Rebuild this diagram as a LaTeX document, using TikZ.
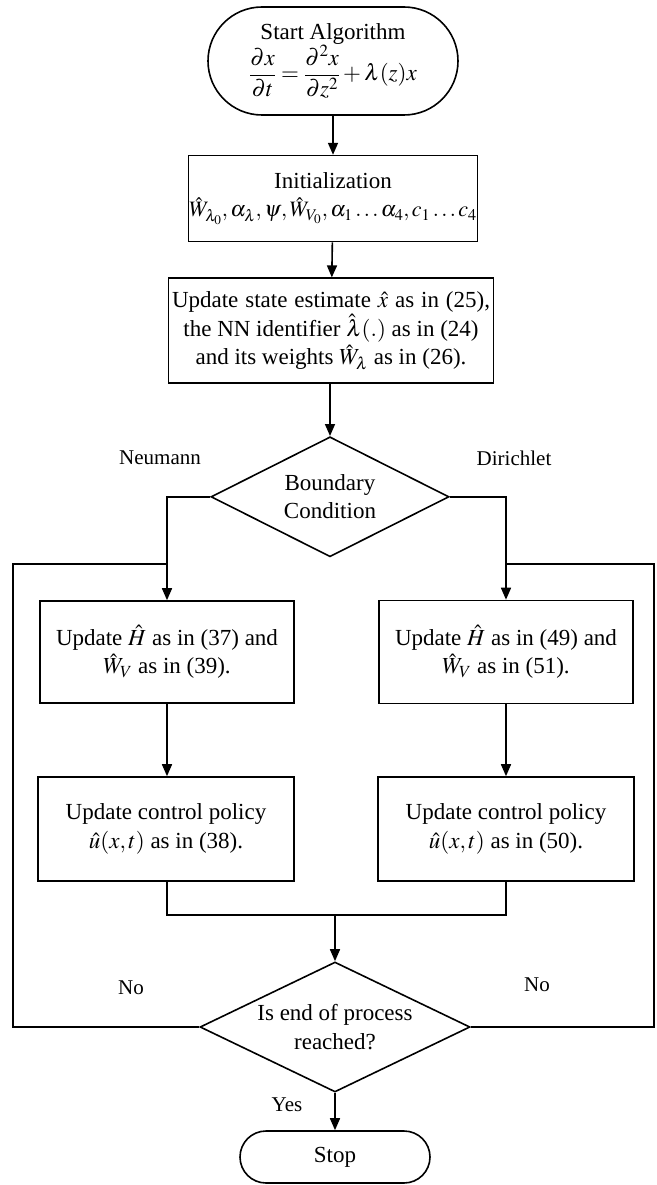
\documentclass[tikz,border=0pt]{standalone}
\usepackage{amsmath}
\usepackage{mathptmx}
\usepackage[no-math]{fontspec}
\setmainfont{Liberation Serif}
\usetikzlibrary{arrows.meta, positioning, shapes.geometric, shapes.misc}

\begin{document}
\begin{tikzpicture}[
    x=1pt, y=-1pt,
    font=\fontsize{23}{28.5}\selectfont,
    termbox/.style={
      rounded rectangle, draw, line width=1.6pt,
      inner sep=0pt, align=center
    },
    procbox/.style={
      rectangle, draw, line width=1.6pt,
      inner sep=0pt, align=center
    },
    decbox/.style={
      diamond, aspect=2, draw, line width=1.6pt,
      inner sep=0pt, align=center
    },
    line/.style={line width=1.6pt},
    arr/.style={line, -{Triangle[length=12pt, width=10pt]}},
    lbl/.style={inner sep=0pt, font=\fontsize{21}{25}\selectfont},
  ]
  \useasboundingbox (0,0) rectangle (656,1185);

  % Main column
  \node[termbox, minimum width=250pt, minimum height=108pt] (start) at (333,61)
    {Start Algorithm\\$\dfrac{\partial x}{\partial t}=\dfrac{\partial^2 x}{\partial z^2}+\lambda(z)x$};
  \node[procbox, minimum width=289pt, minimum height=86pt, below=39pt of start] (init)
    {Initialization\\{\fontsize{22}{28}\selectfont$\hat{W}_{\lambda_0},\alpha_\lambda,\psi,\hat{W}_{V_0},\alpha_1\ldots\alpha_4,c_1\ldots c_4$}};
  \node[procbox, minimum width=325pt, minimum height=105pt, below=35pt of init, xshift=-2pt] (upd)
    {\spaceskip=0.3em plus 0.1em Update state estimate $\hat{x}$ as in (25),\\the NN identifier $\hat{\lambda}(.)$ as in (24)\\and its weights $\hat{W}_\lambda$ as in (26).};
  \node[decbox, minimum width=238pt, minimum height=120pt, below=52pt of upd, xshift=-1pt] (bc)
    {Boundary\\Condition};

  % Neumann and Dirichlet branches
  \node[procbox, minimum width=254pt, minimum height=102pt] (hn) at (167,652)
    {Update $\hat{H}$ as in (37) and\\$\hat{W}_V$ as in (39).};
  \node[procbox, minimum width=256pt, minimum height=104pt] (un) at (166,829)
    {Update control policy\\$\hat{u}(x,t)$ as in (38).};
  \node[procbox, minimum width=254pt, minimum height=103pt] (hd) at (506,652)
    {Update $\hat{H}$ as in (49) and\\$\hat{W}_V$ as in (51).};
  \node[procbox, minimum width=256pt, minimum height=104pt] (ud) at (506,829)
    {Update control policy\\$\hat{u}(x,t)$ as in (50).};

  % End test and stop
  \node[decbox, minimum width=270pt, minimum height=130pt] (endq) at (335,1027)
    {Is end of process\\reached?};
  \node[termbox, minimum width=190pt, minimum height=52pt] (stop) at (335,1157) {Stop};

  \coordinate (mrg) at (335,915);
  \coordinate (lcorner) at (13,564);
  \coordinate (rcorner) at (654,564);

  % Connectors
  \draw[arr] (start) -- (init);
  \draw[arr] (init) -- (upd);
  \draw[arr] (upd.south -| bc.north) -- (bc);
  \draw[arr] (bc.west) -| (hn.north);
  \draw[arr] (bc.east) -| (hd.north);
  \draw[arr] (hn) -- (hn.south |- un.north);
  \draw[arr] (hd) -- (ud);
  \draw[line] (un.south -| hn.south) |- (mrg) -| (ud.south);
  \draw[arr] (mrg) -- (endq.north);
  \draw[arr] (endq) -- (stop);

  % Loops back on "No"
  \draw[line] (endq.west) -| (lcorner) -- (lcorner -| hn.north);
  \draw[line] (endq.east) -| (rcorner) -- (rcorner -| hd.north);

  % Labels
  \node[lbl] (neu) at (160,458) {Neumann};
  \node[lbl] (dir) at (514,458) {Dirichlet};
  \node[lbl] (nol) at (131,988) {No};
  \node[lbl] (nor) at (537,985) {No};
  \node[lbl] (yes) at (287,1105) {Yes};

\end{tikzpicture}
\end{document}
